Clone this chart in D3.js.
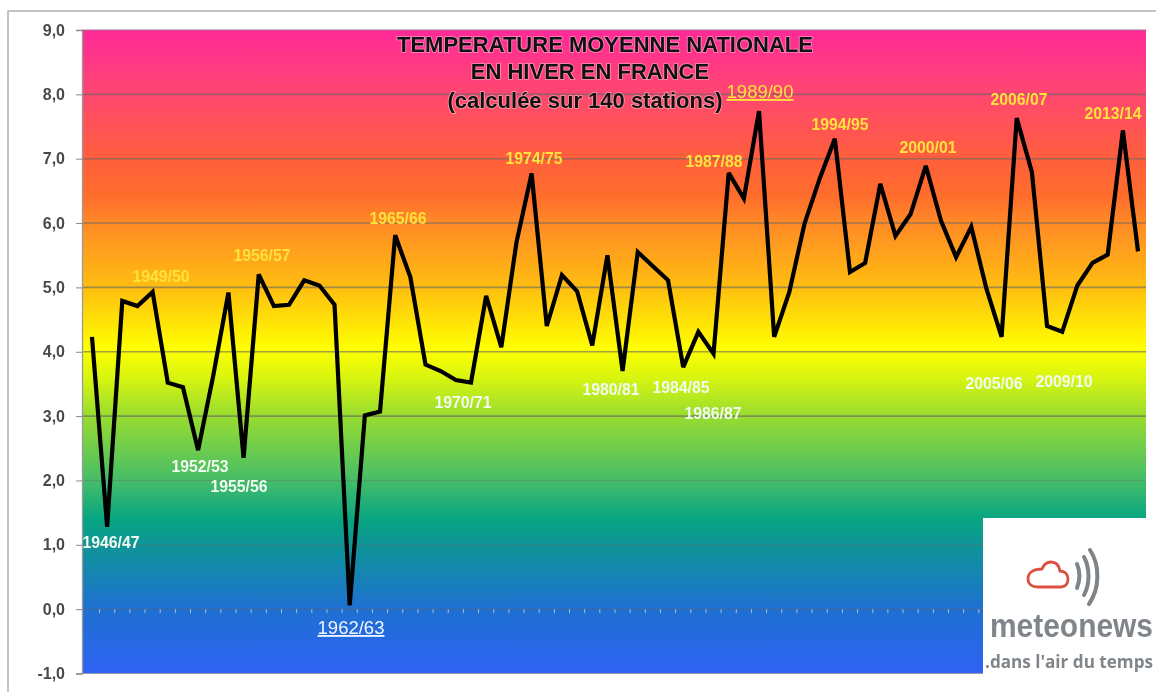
<!DOCTYPE html>
<html>
<head>
<meta charset="utf-8">
<script src="https://cdn.jsdelivr.net/npm/d3@7"></script>
<style>
  html, body { margin: 0; padding: 0; background: #fff; overflow: hidden; }
  svg { display: block; filter: blur(0.7px); font-family: "Liberation Sans", Arial, sans-serif; }
</style>
</head>
<body>
<div id="chart"></div>
<script>
// hiver 1945/46 -> 2014/15
const firstYear = 1945;
const temps = [
  4.23, 1.28, 4.79, 4.71, 4.93, 3.52, 3.45, 2.47, 3.63, 4.92,
  2.35, 5.20, 4.71, 4.73, 5.11, 5.03, 4.73, 0.06, 3.01, 3.07,
  5.81, 5.16, 3.80, 3.70, 3.56, 3.52, 4.87, 4.07, 5.70, 6.77,
  4.40, 5.19, 4.94, 4.10, 5.50, 3.70, 5.55, 5.33, 5.11, 3.76,
  4.31, 3.97, 6.78, 6.38, 7.74, 4.23, 4.93, 5.99, 6.69, 7.31,
  5.24, 5.38, 6.61, 5.80, 6.14, 6.89, 6.04, 5.47, 5.94, 4.98,
  4.23, 7.63, 6.79, 4.40, 4.31, 5.03, 5.38, 5.51, 7.44, 5.56
];
const seasons = temps.map((d, i) => {
  const y = firstYear + i;
  return y + "/" + String((y + 1) % 100).padStart(2, "0");
});
const yTicks = [-1, 0, 1, 2, 3, 4, 5, 6, 7, 8, 9];
const titleLines = ["TEMPERATURE MOYENNE NATIONALE", "EN HIVER EN FRANCE", "(calculée sur 140 stations)"];
const warmLabels = ["1949/50", "1956/57", "1965/66", "1974/75", "1987/88", "1994/95", "2000/01", "2006/07", "2013/14"];
const coldLabels = ["1946/47", "1952/53", "1955/56", "1970/71", "1980/81", "1984/85", "1986/87", "2005/06", "2009/10"];

const width = 1156, height = 692;
const plot = {left: 82, right: 1146, top: 30, bottom: 673.5};

const svg = d3.select("#chart").append("svg")
  .attr("width", width)
  .attr("height", height);

// scales
const x = d3.scaleBand().domain(seasons).range([84.4, 1145.6]);
const y = d3.scaleLinear().domain([-1, 9]).range([plot.bottom, plot.top]);
const xc = d => x(d) + x.bandwidth() / 2;

// background gradient
const stops = [
  [9, "#ff2a98"], [8, "#ff4770"], [7, "#ff5f3c"], [6.4, "#ff6e2c"], [6, "#ff8a26"],
  [5, "#ffbe10"], [4.05, "#ffff00"], [3.6, "#d8f510"], [3, "#98dc30"], [2, "#45bd68"],
  [1.4, "#08a582"], [1, "#0f9598"], [0, "#1e70d2"], [-1, "#2f62f4"]
];
const grad = svg.append("defs").append("linearGradient")
  .attr("id", "bg").attr("x1", 0).attr("x2", 0).attr("y1", 0).attr("y2", 1);
grad.selectAll("stop").data(stops).join("stop")
  .attr("offset", d => (9 - d[0]) / 10)
  .attr("stop-color", d => d[1]);

// outer frame of the picture
svg.append("path")
  .attr("d", `M8,${height + 5} V11 H${width + 5}`)
  .attr("fill", "none").attr("stroke", "#b0b0b0").attr("stroke-width", 1.5);

svg.append("rect")
  .attr("x", plot.left).attr("y", plot.top)
  .attr("width", plot.right - plot.left).attr("height", plot.bottom - plot.top)
  .attr("fill", "url(#bg)");

// grid lines
svg.append("g").selectAll("line").data(yTicks.filter(d => d > -1 && d < 9)).join("line")
  .attr("x1", plot.left).attr("x2", plot.right)
  .attr("y1", d => y(d)).attr("y2", d => y(d))
  .attr("stroke", "#666").attr("stroke-opacity", d => d >= 3 ? 0.6 : 0.28)
  .attr("stroke-width", 1.6);

// Y axis
const yAxis = svg.append("g")
  .attr("transform", `translate(${plot.left},0)`)
  .call(d3.axisLeft(y).tickValues(yTicks).tickSize(6).tickPadding(11)
    .tickFormat(d => d3.format(".1f")(d).replace(".", ",").replace("−", "-")));
yAxis.select(".domain").attr("stroke", "#9a9a9a").attr("stroke-width", 1.3);
yAxis.selectAll(".tick line").attr("stroke", "#888");
yAxis.selectAll("text")
  .attr("fill", "#4a4a4a").style("font-size", "16px").style("font-weight", "bold")
  .style("font-family", '"Liberation Sans", Arial, sans-serif');

svg.append("line")
  .attr("x1", plot.left).attr("x2", plot.right)
  .attr("y1", plot.top).attr("y2", plot.top)
  .attr("stroke", "#a0708c").attr("stroke-width", 1);
svg.append("line")
  .attr("x1", 76).attr("x2", plot.right)
  .attr("y1", plot.bottom).attr("y2", plot.bottom)
  .attr("stroke", "#9a9aa8").attr("stroke-width", 1.2);

// small ticks under the zero line
svg.append("g").selectAll("line").data(seasons.slice(1)).join("line")
  .attr("x1", d => x(d)).attr("x2", d => x(d))
  .attr("y1", y(0)).attr("y2", y(0) + 4)
  .attr("stroke", "#c8cfd8").attr("stroke-opacity", 0.8).attr("stroke-width", 1);

// the line
const line = d3.line()
  .x((d, i) => xc(seasons[i]))
  .y(d => y(d));
svg.append("path")
  .datum(temps)
  .attr("fill", "none")
  .attr("stroke", "#000")
  .attr("stroke-width", 4.2)
  .attr("stroke-linejoin", "miter")
  .attr("stroke-miterlimit", 3)
  .attr("d", line);

// title
const titleX = [605, 590, 585];
const titleY = [52, 79, 108];
svg.append("g").selectAll("text").data(titleLines).join("text")
  .attr("x", (d, i) => titleX[i])
  .attr("y", (d, i) => titleY[i])
  .attr("text-anchor", "middle")
  .attr("fill", "#111")
  .attr("stroke", "#fff").attr("stroke-opacity", 0.45).attr("stroke-width", 1.6)
  .style("paint-order", "stroke")
  .style("font-size", "22px").style("font-weight", "bold")
  .text(d => d);

// season labels, hand placed like in the original
const labelPos = {
  "1946/47": [111, 548], "1949/50": [161, 282], "1952/53": [200, 472], "1955/56": [239, 492],
  "1956/57": [262, 261], "1962/63": [351, 634], "1965/66": [398, 224], "1970/71": [463, 408],
  "1974/75": [534, 164], "1980/81": [611, 395], "1984/85": [681, 393], "1986/87": [713, 419],
  "1987/88": [714, 167], "1989/90": [760, 98], "1994/95": [840, 130], "2000/01": [928, 153],
  "2005/06": [994, 389], "2006/07": [1019, 105], "2009/10": [1064, 387], "2013/14": [1113, 119]
};
function addLabels(list, color, size, weight, underline) {
  svg.append("g").selectAll("text").data(list).join("text")
    .attr("x", d => labelPos[d][0])
    .attr("y", d => labelPos[d][1])
    .attr("text-anchor", "middle")
    .attr("fill", color)
    .style("font-size", size + "px")
    .style("font-weight", weight)
    .style("text-decoration", underline ? "underline" : "none")
    .text(d => d);
}
addLabels(warmLabels, "#ffe23c", 15.8, "bold", false);
addLabels(coldLabels, "#f2fbf2", 15.8, "bold", false);
addLabels(["1962/63"], "#f0f6ff", 18.5, "normal", true);
addLabels(["1989/90"], "#ffe23c", 18.5, "normal", true);

// meteonews logo
const logo = svg.append("g");
logo.append("rect")
  .attr("x", 983).attr("y", 518)
  .attr("width", width - 983).attr("height", height - 518)
  .attr("fill", "#fff");
logo.append("path")
  .attr("d", "M1038,587 h22 c6,0 8,-4 8,-8 c0,-5 -3,-8 -8,-8 c-1,-6 -4,-9 -9,-9 c-4,0 -7,2 -9,7 c-8,0 -14,3 -14,10 c0,5 4,8 10,8 z")
  .attr("fill", "none").attr("stroke", "#dd5040").attr("stroke-width", 2.8);
[
  "M1077,564 c3,7 3,16 0,24",
  "M1084,557 c6,11 6,27 0,38",
  "M1090,550 c10,15 10,38 -1,54",
].forEach(p => logo.append("path").attr("d", p)
  .attr("fill", "none").attr("stroke", "#7f8488").attr("stroke-width", 4).attr("stroke-linecap", "round"));
logo.append("text")
  .attr("x", 990).attr("y", 637)
  .attr("fill", "#80858a")
  .attr("textLength", 163).attr("lengthAdjust", "spacingAndGlyphs")
  .style("font-family", '"Liberation Sans Narrow", "Liberation Sans", sans-serif')
  .style("font-size", "33px").style("font-weight", "bold")
  .text("meteonews");
logo.append("text")
  .attr("x", 985).attr("y", 668)
  .attr("fill", "#80858a")
  .attr("textLength", 168).attr("lengthAdjust", "spacingAndGlyphs")
  .style("font-family", '"Open Sans", sans-serif')
  .style("font-size", "17px").style("font-weight", "bold")
  .text(".dans l'air du temps");
</script>
</body>
</html>
